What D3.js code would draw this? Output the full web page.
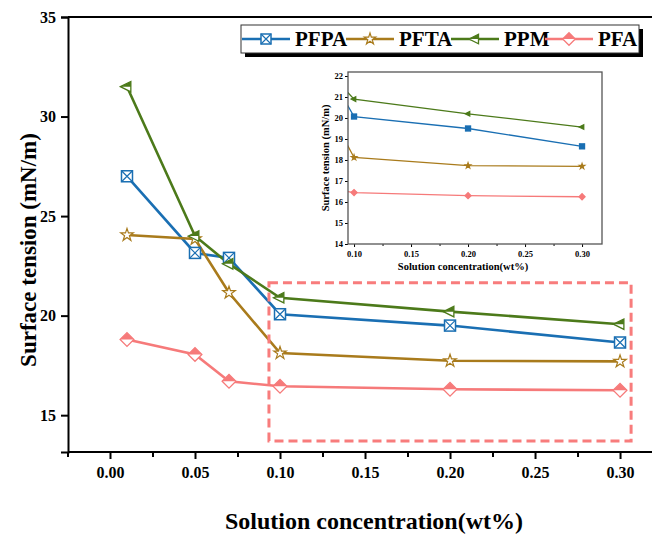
<!DOCTYPE html>
<html>
<head>
<meta charset="utf-8">
<script src="https://cdn.jsdelivr.net/npm/d3@7"></script>
<style>
  body { margin: 0; background: #fff; }
  svg { display: block; }
  svg text { font-family: "Liberation Serif", "DejaVu Serif", serif; font-weight: bold; }
</style>
</head>
<body>
<svg id="chart" width="652" height="553"></svg>
<script>
// data
const conc = [0.01, 0.05, 0.07, 0.10, 0.20, 0.30]
const seriesNames = ['PFPA', 'PFTA', 'PPM', 'PFA']
const pfpa = [27.0, 23.15, 22.9, 20.07, 19.5, 18.65]
const pfta = [24.05, 23.85, 21.15, 18.12, 17.73, 17.7]
const ppm = [31.5, 24.0, 22.6, 20.9, 20.2, 19.57]
const pfa = [18.8, 18.05, 16.7, 16.45, 16.3, 16.25]
const colors = ['#1a6fb3', '#a97b1c', '#4c7a1a', '#f67a7a']

const yTicks = [15, 20, 25, 30, 35]
const xTicks = [0, 0.05, 0.10, 0.15, 0.20, 0.25, 0.30]
const insetYTicks = [14, 15, 16, 17, 18, 19, 20, 21, 22]
const insetXTicks = [0.10, 0.15, 0.20, 0.25, 0.30]
const zoomBox = { x0: 0.0935, x1: 0.3065, y0: 13.7, y1: 21.65 }

const values = [pfpa, pfta, ppm, pfa]
const series = seriesNames.map((n, i) => ({ name: n, color: colors[i], pts: conc.map((c, j) => [c, values[i][j]]) }))

const svg = d3.select('#chart')

// main scales
const x = d3.scaleLinear().domain([-0.0247, 0.3188]).range([68, 652])
const y = d3.scaleLinear().domain([13.15, 35]).range([452, 17])

// marker drawing
function marker(g, name, color, s) {
    if (name == 'PFPA') {
        g.append('rect').attr('x', -s).attr('y', -s).attr('width', 2 * s).attr('height', 2 * s)
            .attr('fill', '#fff').attr('stroke', color).attr('stroke-width', 1.5)
        g.append('path').attr('d', `M${-s},${-s}L${s},${s}M${s},${-s}L${-s},${s}`)
            .attr('stroke', color).attr('stroke-width', 1.2)
    } else if (name == 'PFTA') {
        g.append('path').attr('d', d3.symbol(d3.symbolStar, s * s * 1.6)())
            .attr('fill', '#fff').attr('stroke', color).attr('stroke-width', 1.2)
    } else if (name == 'PPM') {
        const a = s * 1.2, b = s * 0.7, h = s * 0.95
        g.append('path').attr('d', `M${-a},0L${b},${-h}L${b},${h}Z`)
            .attr('fill', '#fff').attr('stroke', color).attr('stroke-width', 1.3)
        g.append('path').attr('d', `M${-a},0L${b},${-h}L${b},0Z`).attr('fill', color)
    } else {
        const d = s * 1.25
        g.append('path').attr('d', `M${-d},0L0,${-d}L${d},0L0,${d}Z`)
            .attr('fill', '#fff').attr('stroke', color).attr('stroke-width', 1.3)
        g.append('path').attr('d', `M${-d},0L0,${-d}L${d},0Z`).attr('fill', color)
    }
}

function styleTicks(sel, size) {
    sel.selectAll('text').attr('font-size', size)
        .attr('font-family', '"Liberation Serif", "DejaVu Serif", serif').attr('font-weight', 'bold')
}

// axes
const yAxis = svg.append('g').attr('transform', 'translate(68,0)')
    .call(d3.axisLeft(y).tickValues(yTicks).tickSize(7).tickPadding(5).tickFormat(d3.format('d')))
yAxis.select('.domain').attr('stroke-width', 2)
yAxis.selectAll('.tick line').attr('stroke-width', 2)
styleTicks(yAxis, 16)

const xMinor = d3.range(-0.025, 0.31, 0.025).filter(v => Math.abs(Math.round(v / 0.05) * 0.05 - v) > 1e-6)
svg.append('g').attr('transform', 'translate(0,452)')
    .call(d3.axisBottom(x).tickValues(xMinor).tickSize(5).tickFormat(''))
    .call(g => g.select('.domain').remove())
    .selectAll('.tick line').attr('stroke-width', 2)
const xAxis = svg.append('g').attr('transform', 'translate(0,452)')
    .call(d3.axisBottom(x).tickValues(xTicks).tickSize(7).tickPadding(8).tickFormat(d3.format('.2f')))
xAxis.select('.domain').attr('stroke-width', 2).attr('d', 'M68,0H652')
xAxis.selectAll('.tick line').attr('stroke-width', 2)
styleTicks(xAxis, 16)

// top frame line
svg.append('line').attr('x1', 68).attr('x2', 652).attr('y1', 17).attr('y2', 17)
    .attr('stroke', '#000').attr('stroke-width', 2)

// axis titles
svg.append('text').attr('x', 374).attr('y', 529).attr('text-anchor', 'middle')
    .attr('font-size', 24).text('Solution concentration(wt%)')
svg.append('text').attr('transform', 'translate(36,250) rotate(-90)').attr('text-anchor', 'middle')
    .attr('font-size', 23).text('Surface tension (mN/m)')

// lines + markers
const line = d3.line().x(d => x(d[0])).y(d => y(d[1]))
series.forEach(s => {
    svg.append('path').datum(s.pts).attr('d', line).attr('fill', 'none')
        .attr('stroke', s.color).attr('stroke-width', 2.6)
})
series.forEach(s => {
    s.pts.forEach(p => {
        const g = svg.append('g').attr('transform', `translate(${x(p[0])},${y(p[1])})`)
        marker(g, s.name, s.color, 5.5)
    })
})

// dashed zoom box
svg.append('rect')
    .attr('x', x(zoomBox.x0)).attr('y', y(zoomBox.y1))
    .attr('width', x(zoomBox.x1) - x(zoomBox.x0)).attr('height', y(zoomBox.y0) - y(zoomBox.y1))
    .attr('fill', 'none').attr('stroke', '#f87c7c').attr('stroke-width', 3).attr('stroke-dasharray', '9,5')

// inset
const ix = d3.scaleLinear().domain([0.0947, 0.3175]).range([348, 602])
const iy = d3.scaleLinear().domain([14, 22.19]).range([244, 72])
const inset = svg.append('g')
inset.append('clipPath').attr('id', 'inset-clip').append('rect')
    .attr('x', 348).attr('y', 72).attr('width', 254).attr('height', 172)

const iyAxis = inset.append('g').attr('transform', 'translate(348,0)')
    .call(d3.axisLeft(iy).tickValues(insetYTicks).tickSize(3).tickPadding(2).tickFormat(d3.format('d')))
iyAxis.select('.domain').remove()
styleTicks(iyAxis, 8.5)
inset.append('g').attr('transform', 'translate(0,244)')
    .call(d3.axisBottom(ix).tickValues([0.125, 0.175, 0.225, 0.275]).tickSize(2).tickFormat(''))
    .call(g => g.select('.domain').remove())
const ixAxis = inset.append('g').attr('transform', 'translate(0,244)')
    .call(d3.axisBottom(ix).tickValues(insetXTicks).tickSize(3).tickPadding(4).tickFormat(d3.format('.2f')))
ixAxis.select('.domain').remove()
styleTicks(ixAxis, 8.5)

const iline = d3.line().x(d => ix(d[0])).y(d => iy(d[1]))
const ig = inset.append('g').attr('clip-path', 'url(#inset-clip)')
series.forEach(s => {
    ig.append('path').datum(s.pts).attr('d', iline).attr('fill', 'none')
        .attr('stroke', s.color).attr('stroke-width', 1.3)
    s.pts.filter(p => p[0] >= 0.1).forEach(p => {
        const g = ig.append('g').attr('transform', `translate(${ix(p[0])},${iy(p[1])})`)
        marker(g, s.name, s.color, 2.4)
        g.selectAll('*').attr('fill', s.color)
    })
})
inset.append('rect').attr('x', 348).attr('y', 72).attr('width', 254).attr('height', 172)
    .attr('fill', 'none').attr('stroke', '#555').attr('stroke-width', 1.3)
inset.append('text').attr('x', 463).attr('y', 270).attr('text-anchor', 'middle')
    .attr('font-size', 10.5).text('Solution concentration(wt%)')
inset.append('text').attr('transform', 'translate(329,158) rotate(-90)').attr('text-anchor', 'middle')
    .attr('font-size', 10.5).text('Surface tension (mN/m)')

// legend
const legend = svg.append('g')
legend.append('rect').attr('x', 245).attr('y', 29).attr('width', 398).attr('height', 28).attr('fill', '#000')
legend.append('rect').attr('x', 241).attr('y', 25).attr('width', 398).attr('height', 28)
    .attr('fill', '#fff').attr('stroke', '#333').attr('stroke-width', 1)
const legX = [242, 346, 451, 545]
series.forEach((s, i) => {
    const x0 = legX[i]
    legend.append('line').attr('x1', x0).attr('x2', x0 + 48).attr('y1', 39).attr('y2', 39)
        .attr('stroke', s.color).attr('stroke-width', 2.6)
    const g = legend.append('g').attr('transform', `translate(${x0 + 24},39)`)
    marker(g, s.name, s.color, 5)
    legend.append('text').attr('x', x0 + 53).attr('y', 46).attr('font-size', 21).text(s.name)
})
</script>
</body>
</html>
